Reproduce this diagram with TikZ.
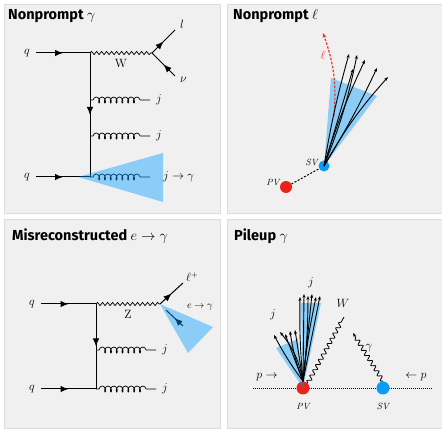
\documentclass[tikz,border=0pt]{standalone}
\usepackage{fontspec}
\usetikzlibrary{arrows.meta, positioning, calc, decorations.pathmorphing, decorations.markings}
\newfontfamily\headingfont{Fira Sans}
\definecolor{panelfill}{HTML}{F0F0F0}
\definecolor{panelborder}{HTML}{DCDCDC}
\definecolor{conecolor}{HTML}{009DFF}
\definecolor{svcolor}{HTML}{0A9BF5}
\definecolor{pvcolor}{HTML}{E8231A}
\definecolor{leptoncolor}{HTML}{E53A2E}

\begin{document}
\begin{tikzpicture}[
    x=1pt, y=-1pt,
    panel/.style={
        draw=panelborder,
        fill=panelfill,
        anchor=north west,
        inner sep=0pt,
        minimum width=216pt,
        minimum height=209pt
    },
    heading/.style={
        anchor=base west,
        inner sep=0pt,
        font=\headingfont\bfseries\fontsize{14.5}{17}\selectfont
    },
    particle/.style={
        inner sep=1pt,
        font=\fontsize{12}{14}\selectfont
    },
    vertexlabel/.style={
        inner sep=1pt,
        font=\fontsize{9}{11}\selectfont\itshape
    },
    fermion/.style={
        line width=1pt,
        postaction={decorate},
        decoration={markings, mark=at position 0.5 with {\arrow{Latex[length=8pt, width=6.5pt]}}}
    },
    boson/.style={
        line width=0.7pt,
        decorate,
        decoration={snake, segment length=5pt, amplitude=1.6pt}
    },
    gluon/.style={
        line width=0.7pt,
        decorate,
        decoration={coil, segment length=5.8pt, amplitude=3pt, aspect=0.6, pre length=3pt, post length=8pt}
    },
    softphoton/.style={
        line width=0.8pt,
        decorate,
        decoration={snake, segment length=6pt, amplitude=2pt, post length=3pt}
    },
    cone/.style={
        fill=conecolor,
        fill opacity=0.42
    },
    track/.style={
        line width=0.9pt,
        -{Stealth[length=4pt, width=3pt]}
    },
    vertexdot/.style={
        circle,
        inner sep=0pt,
        minimum size=12pt
    }
]
    \useasboundingbox (0,0) rectangle (442,430);

    \node[panel] (panelGamma) at (4,4) {};
    \node[panel] (panelLepton) at (227,4) {};
    \node[panel] (panelElectron) at (4,219) {};
    \node[panel] (panelPileup) at (227,219) {};

    \node[heading] (headingGamma) at (8,20) {Nonprompt $\gamma$};
    \node[heading] (headingLepton) at (233,20) {Nonprompt $\ell$};
    \node[heading] (headingElectron) at (12,241) {Misreconstructed $e\rightarrow\gamma$};
    \node[heading] (headingPileup) at (234,241) {Pileup $\gamma$};

    % nonprompt photon from a jet
    \coordinate (qTopStart) at (36,53);
    \coordinate (wVertex) at (90,53);
    \coordinate (wDecay) at (152,53);
    \coordinate (wMiddle) at ($(wVertex)!0.5!(wDecay)$);
    \coordinate (leptonEnd) at (175,30);
    \coordinate (neutrinoEnd) at (175,76);
    \coordinate (gluonOneStart) at (90,100);
    \coordinate (gluonOneEnd) at (150,100);
    \coordinate (gluonTwoStart) at (90,136);
    \coordinate (gluonTwoEnd) at (150,136);
    \coordinate (qBottomStart) at (36,177);
    \coordinate (bottomVertex) at (90,177);
    \coordinate (gluonThreeEnd) at (150,177);

    \node[particle, left=5pt of qTopStart] (qTop) {$q$};
    \node[particle, left=5pt of qBottomStart] (qBottom) {$q$};

    \draw[fermion] (qTopStart) -- (wVertex);
    \draw[boson] (wVertex) -- (wDecay);
    \node[particle, below=5pt of wMiddle] (wLabel) {$\mathrm{W}$};
    \draw[fermion] (wDecay) -- (leptonEnd);
    \draw[fermion] (neutrinoEnd) -- (wDecay);
    \node[particle, above right=0pt and 4pt of leptonEnd] (leptonLabel) {$l$};
    \node[particle, below right=0pt and 4pt of neutrinoEnd] (neutrinoLabel) {$\nu$};
    \draw[fermion] (wVertex) -- (bottomVertex);
    \draw[gluon] (gluonOneStart) -- (gluonOneEnd);
    \draw[gluon] (gluonTwoStart) -- (gluonTwoEnd);
    \node[particle, right=5pt of gluonOneEnd] (jetOneLabel) {$j$};
    \node[particle, right=5pt of gluonTwoEnd] (jetTwoLabel) {$j$};
    \draw[fermion] (qBottomStart) -- (bottomVertex);
    \draw[gluon] (bottomVertex) -- (gluonThreeEnd);
    \node[particle, right=12pt of gluonThreeEnd] (fakePhotonLabel) {$j\rightarrow\gamma$};
    \fill[cone] (78,177) -- (163,153) -- (163,202) -- cycle;

    % nonprompt lepton from a displaced vertex
    \node[vertexdot, fill=svcolor, minimum size=11pt] (svLepton) at (324,166) {};
    \node[vertexdot, fill=pvcolor] (pvLepton) at (286,187) {};
    \node[vertexlabel, left=1pt of svLepton.north west] (svLeptonLabel) {SV};
    \node[vertexlabel, left=1pt of pvLepton.north west] (pvLeptonLabel) {PV};
    \draw[line width=1pt, dash pattern=on 2pt off 1.6pt] (pvLepton) -- (svLepton);
    \fill[cone] (svLepton.center) -- (331,78) -- (377,96) -- cycle;

    \coordinate (leptonStart) at (334,116);
    \coordinate (leptonTip) at (323,33);
    \draw[leptoncolor, line width=1.2pt, dash pattern=on 2.5pt off 1.5pt, -{Stealth[length=5pt, width=4pt]}]
        (leptonStart) to[bend right=12] (leptonTip);
    \node[particle, text=leptoncolor] (nonpromptLabel) at (323,55) {$\ell$};

    \coordinate (trackA) at (349,54);
    \coordinate (trackB) at (357,55);
    \coordinate (trackC) at (365,60);
    \coordinate (trackD) at (353,69);
    \coordinate (trackE) at (377,68);
    \coordinate (trackF) at (388,77);
    \draw[track] (svLepton.center) to[bend left=3] (trackA);
    \draw[track] (svLepton.center) to[bend right=5] (trackB);
    \draw[track] (svLepton.center) to[bend left=4] (trackC);
    \draw[track] (svLepton.center) to (trackD);
    \draw[track] (svLepton.center) to[bend right=3] (trackE);
    \draw[track] (svLepton.center) to[bend left=6] (trackF);

    % electron faking a photon
    \coordinate (qUpperStart) at (41,304);
    \coordinate (zVertex) at (96,304);
    \coordinate (zDecay) at (160,304);
    \coordinate (zMiddle) at ($(zVertex)!0.5!(zDecay)$);
    \coordinate (positronEnd) at (183,283);
    \coordinate (electronStart) at (183,326);
    \coordinate (electronEnd) at (166,310);
    \coordinate (gluonUpperStart) at (96,350);
    \coordinate (gluonUpperEnd) at (156,350);
    \coordinate (qLowerStart) at (41,389);
    \coordinate (lowerVertex) at (96,389);
    \coordinate (gluonLowerEnd) at (156,389);

    \node[particle, left=5pt of qUpperStart] (qUpper) {$q$};
    \node[particle, left=5pt of qLowerStart] (qLower) {$q$};
    \draw[fermion] (qUpperStart) -- (zVertex);
    \draw[boson] (zVertex) -- (zDecay);
    \node[particle, below=5pt of zMiddle] (zLabel) {$\mathrm{Z}$};
    \draw[fermion] (zDecay) -- (positronEnd);
    \node[particle, above right=0pt and 2pt of positronEnd] (positronLabel) {$\ell^{+}$};
    \draw[fermion] (electronStart) -- (electronEnd);
    \node[particle, font=\fontsize{10}{12}\selectfont] (electronLabel) at (200,307) {$e\rightarrow\gamma$};
    \draw[fermion] (zVertex) -- (lowerVertex);
    \draw[gluon] (gluonUpperStart) -- (gluonUpperEnd);
    \node[particle, right=5pt of gluonUpperEnd] (jetUpperLabel) {$j$};
    \draw[fermion] (qLowerStart) -- (lowerVertex);
    \draw[gluon] (lowerVertex) -- (gluonLowerEnd);
    \node[particle, right=5pt of gluonLowerEnd] (jetLowerLabel) {$j$};
    \fill[cone] (zDecay) -- (213,327) -- (188,353) -- cycle;

    % photon from a pileup vertex
    \coordinate (beamLeft) at (253,388);
    \coordinate (beamRight) at (432,388);
    \draw[line width=0.7pt, dash pattern=on 1pt off 1pt] (beamLeft) -- (beamRight);
    \node[vertexdot, fill=pvcolor, minimum size=13pt] (pvPileup) at (303,388) {};
    \node[vertexdot, fill=svcolor, minimum size=13pt] (svPileup) at (383,388) {};
    \node[vertexlabel, below=7pt of pvPileup] (pvPileupLabel) {PV};
    \node[vertexlabel, below=7pt of svPileup] (svPileupLabel) {SV};
    \node[particle] (beamOneLabel) at (267,377) {$p\rightarrow$};
    \node[particle] (beamTwoLabel) at (416,377) {$\leftarrow p$};

    \fill[cone] (pvPileup.center) -- (301,303) -- (321,303) -- cycle;
    \fill[cone] (pvPileup.center) -- (276,348) -- (298,339) -- cycle;

    \coordinate (hardTrackA) at (300,297);
    \coordinate (hardTrackB) at (304,294);
    \coordinate (hardTrackC) at (308,296);
    \coordinate (hardTrackD) at (312,294);
    \coordinate (hardTrackE) at (316,297);
    \coordinate (hardTrackF) at (320,296);
    \draw[track] (pvPileup.north) to[bend left=3] (hardTrackA);
    \draw[track] (pvPileup.north) to (hardTrackB);
    \draw[track] (pvPileup.north) to[bend right=3] (hardTrackC);
    \draw[track] (pvPileup.north) to (hardTrackD);
    \draw[track] (pvPileup.north) to[bend left=3] (hardTrackE);
    \draw[track] (pvPileup.north) to (hardTrackF);
    \node[particle] (hardJetLabel) at (311,283) {$j$};

    \coordinate (softTrackA) at (274,335);
    \coordinate (softTrackB) at (280,332);
    \coordinate (softTrackC) at (285,334);
    \coordinate (softTrackD) at (290,331);
    \coordinate (softTrackE) at (295,330);
    \draw[track] (pvPileup.north) to[bend left=4] (softTrackA);
    \draw[track] (pvPileup.north) to[bend right=14] (softTrackB);
    \draw[track] (pvPileup.north) to (softTrackC);
    \draw[track] (pvPileup.north) to[bend left=6] (softTrackD);
    \draw[track] (pvPileup.north) to (softTrackE);
    \node[particle] (softJetLabel) at (273,315) {$j$};

    \coordinate (wPileupEnd) at (344,317);
    \coordinate (photonPileupEnd) at (353,333);
    \draw[softphoton] (pvPileup.north east) -- (wPileupEnd);
    \node[particle] (wPileupLabel) at (343,303) {$W$};
    \draw[softphoton, -{Stealth[length=4pt, width=3pt]}] (svPileup.north) -- (photonPileupEnd);
    \node[particle] (photonPileupLabel) at (369,348) {$\gamma$};
\end{tikzpicture}
\end{document}
